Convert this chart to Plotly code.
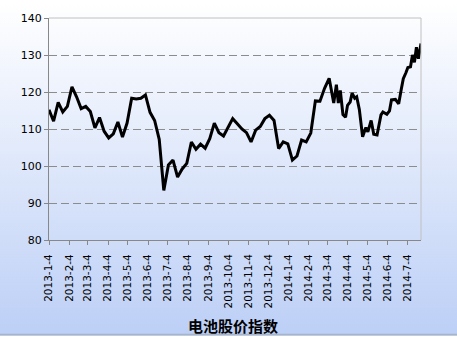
import base64
import plotly.graph_objects as go

dates = [
    "2013-01-04", "2013-01-11", "2013-01-18", "2013-01-25", "2013-02-01", "2013-02-08",
    "2013-02-15", "2013-02-22", "2013-03-01", "2013-03-08", "2013-03-15", "2013-03-22",
    "2013-03-29", "2013-04-05", "2013-04-12", "2013-04-19", "2013-04-26", "2013-05-03",
    "2013-05-10", "2013-05-17", "2013-05-24", "2013-05-31", "2013-06-07", "2013-06-14",
    "2013-06-21", "2013-06-28", "2013-07-05", "2013-07-12", "2013-07-19", "2013-07-26",
    "2013-08-02", "2013-08-09", "2013-08-16", "2013-08-23", "2013-08-30", "2013-09-06",
    "2013-09-13", "2013-09-20", "2013-09-27", "2013-10-04", "2013-10-11", "2013-10-18",
    "2013-10-25", "2013-11-01", "2013-11-08", "2013-11-15", "2013-11-22", "2013-11-29",
    "2013-12-06", "2013-12-13", "2013-12-20", "2013-12-27", "2014-01-03", "2014-01-10",
    "2014-01-17", "2014-01-24", "2014-01-31", "2014-02-07", "2014-02-14", "2014-02-21",
    "2014-02-28", "2014-03-07",
    "2014-03-14", "2014-03-18", "2014-03-21", "2014-03-24", "2014-03-28", "2014-04-01",
    "2014-04-04", "2014-04-08", "2014-04-11", "2014-04-15", "2014-04-18", "2014-04-22",
    "2014-04-27", "2014-05-02", "2014-05-05", "2014-05-10", "2014-05-14", "2014-05-19",
    "2014-05-25", "2014-05-28", "2014-06-03", "2014-06-07", "2014-06-10", "2014-06-16",
    "2014-06-21", "2014-06-25", "2014-06-28", "2014-07-02", "2014-07-05", "2014-07-09",
    "2014-07-12", "2014-07-15", "2014-07-18", "2014-07-21", "2014-07-25",
]
values = [
    115.2, 112.1, 117.2, 114.6, 116.1, 121.4,
    118.7, 115.5, 116.1, 114.7, 110.3, 113.1,
    109.4, 107.6, 108.7, 111.9, 107.8, 111.6,
    118.3, 118.1, 118.3, 119.2, 114.5, 112.3,
    107.2, 93.4, 100.3, 101.6, 97.0, 99.2,
    100.7, 106.5, 104.5, 105.9, 104.8, 107.4,
    111.6, 109.0, 108.1, 110.5, 112.8, 111.4,
    110.0, 109.0, 106.5, 109.7, 110.7, 112.8,
    113.7, 112.3, 104.7, 106.5, 106.0, 101.6,
    102.7, 107.0, 106.5, 108.9, 117.6, 117.5,
    121.0, 123.7,
    117.0, 122.0, 117.0, 120.4, 113.9, 113.2,
    116.4, 117.3, 119.7, 118.3, 118.7, 115.3,
    107.9, 110.4, 109.2, 112.3, 108.6, 108.4,
    113.8, 114.6, 114.0, 114.9, 117.9, 118.0,
    116.8, 120.8, 123.6, 125.2, 126.6, 126.8,
    130.0, 128.0, 132.1, 129.0, 133.1,
]
tick_vals = [
    "2013-01-04", "2013-02-04", "2013-03-04", "2013-04-04", "2013-05-04", "2013-06-04",
    "2013-07-04", "2013-08-04", "2013-09-04", "2013-10-04", "2013-11-04", "2013-12-04",
    "2014-01-04", "2014-02-04", "2014-03-04", "2014-04-04", "2014-05-04", "2014-06-04",
    "2014-07-04",
]
tick_text = [
    "2013-1-4", "2013-2-4", "2013-3-4", "2013-4-4", "2013-5-4", "2013-6-4",
    "2013-7-4", "2013-8-4", "2013-9-4", "2013-10-4", "2013-11-4", "2013-12-4",
    "2014-1-4", "2014-2-4", "2014-3-4", "2014-4-4", "2014-5-4", "2014-6-4",
    "2014-7-4",
]
title_text = "电池股价指数"

W, H = 457, 337
L, R, T, B = 49, 36, 15, 97
pw, ph = W - L - R, H - T - B

svg = (
    '<svg xmlns="http://www.w3.org/2000/svg" width="457" height="337" preserveAspectRatio="none">'
    '<defs><linearGradient id="g" x1="0" y1="0" x2="0" y2="1">'
    '<stop offset="0" stop-color="#ffffff"/><stop offset="1" stop-color="#bccff6"/>'
    '</linearGradient></defs><rect width="457" height="337" fill="url(#g)"/>'
    '<rect y="335" width="457" height="2" fill="#a8b4c8"/></svg>'
)
src = "data:image/svg+xml;base64," + base64.b64encode(svg.encode()).decode()

fig = go.Figure()
fig.add_trace(go.Scatter(
    x=dates, y=values, mode="lines",
    line=dict(color="#000000", width=3),
    hoverinfo="x+y",
))

fig.update_layout(
    width=W, height=H,
    margin=dict(l=L, r=R, t=T, b=B),
    paper_bgcolor="#ffffff",
    plot_bgcolor="rgba(0,0,0,0)",
    showlegend=False,
    font=dict(family="DejaVu Sans", color="#000000", size=11),
    images=[dict(
        source=src, xref="paper", yref="paper",
        x=-L / pw, y=1 + T / ph, sizex=W / pw, sizey=H / ph,
        xanchor="left", yanchor="top", sizing="stretch", layer="below",
    )],
    xaxis=dict(
        type="date",
        range=["2013-01-04", "2014-07-25"],
        tickmode="array", tickvals=tick_vals, ticktext=tick_text,
        tickangle=-90, tickfont=dict(size=10.5, family="DejaVu Sans"),
        ticks="outside", ticklen=4, tickcolor="#888888",
        ticklabelstandoff=5,
        showline=True, linecolor="#888888", linewidth=1,
        mirror=False, showgrid=False, zeroline=False,
    ),
    yaxis=dict(
        range=[80, 140], tickvals=[80, 90, 100, 110, 120, 130, 140],
        ticks="outside", ticklen=4, tickcolor="#888888",
        showline=True, linecolor="#888888", linewidth=1,
        showgrid=True, gridcolor="#8c8c8c", griddash="8px,4px", gridwidth=1,
        zeroline=False, tickfont=dict(size=11),
    ),
    annotations=[dict(
        text="<b>" + title_text + "</b>", xref="paper", yref="paper",
        x=0.5 - 2 / pw, y=-(327 - 240) / ph, xanchor="center", yanchor="middle",
        showarrow=False, font=dict(family="Noto Sans CJK SC", size=15, color="#000000"),
    )],
    shapes=[
        dict(type="line", xref="paper", yref="paper", x0=0, x1=1, y0=1, y1=1,
             line=dict(color="#c0c0c0", width=1)),
        dict(type="line", xref="paper", yref="paper", x0=1, x1=1, y0=0, y1=1,
             line=dict(color="#c0c0c0", width=1)),
    ],
)

fig.write_html("out.html")
